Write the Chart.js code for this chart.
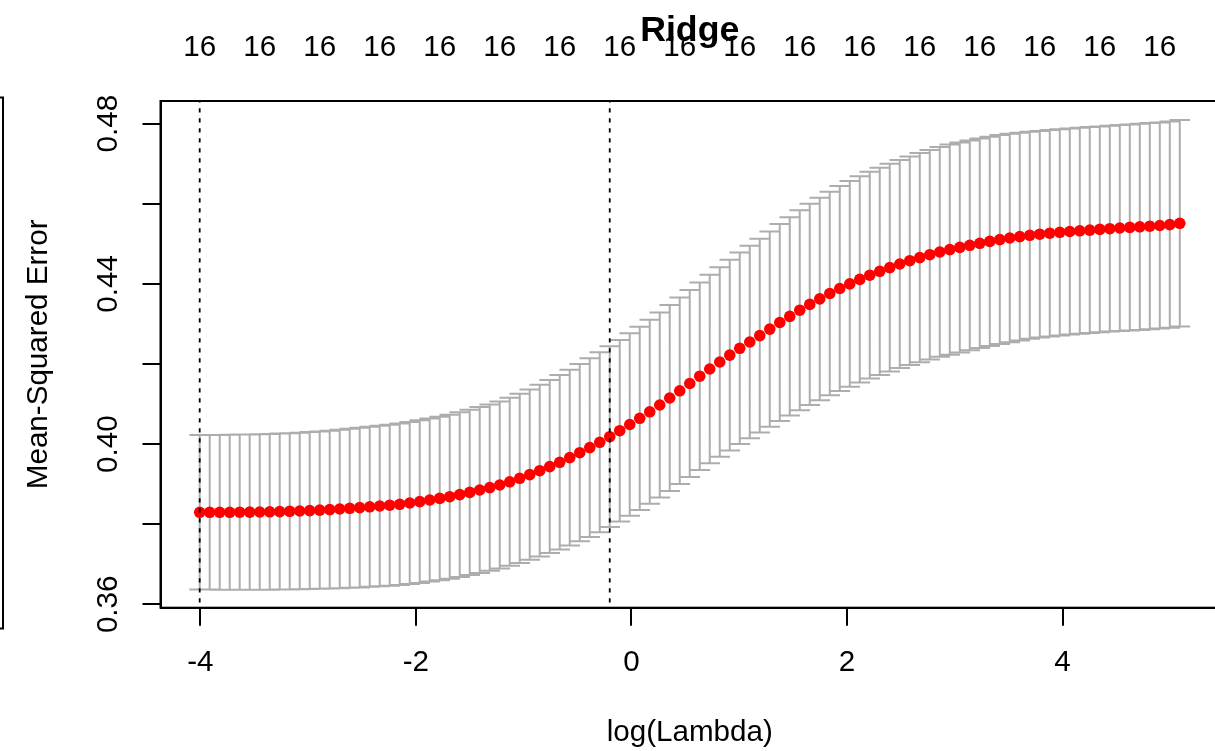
<!DOCTYPE html>
<html>
<head>
<meta charset="utf-8">
<title>Ridge</title>
<script src="https://cdn.jsdelivr.net/npm/chart.js@4.4.1/dist/chart.umd.min.js"></script>
<style>
  html, body { margin: 0; padding: 0; background: #ffffff; overflow: hidden; }
  canvas { display: block; }
</style>
</head>
<body>
<canvas id="cv" width="1240" height="751"></canvas>
<script>
// log(lambda) path of the cross-validated ridge fit
const logLambda = [
  -4.0056,-3.9128,-3.8200,-3.7272,-3.6345,-3.5417,-3.4489,-3.3561,-3.2633,-3.1705,
  -3.0777,-2.9849,-2.8922,-2.7994,-2.7066,-2.6138,-2.5210,-2.4282,-2.3354,-2.2427,
  -2.1499,-2.0571,-1.9643,-1.8715,-1.7787,-1.6859,-1.5932,-1.5004,-1.4076,-1.3148,
  -1.2220,-1.1292,-1.0364,-0.9437,-0.8509,-0.7581,-0.6653,-0.5725,-0.4797,-0.3869,
  -0.2942,-0.2014,-0.1086,-0.0158,0.0770,0.1698,0.2626,0.3553,0.4481,0.5409,
  0.6337,0.7265,0.8193,0.9121,1.0048,1.0976,1.1904,1.2832,1.3760,1.4688,
  1.5616,1.6543,1.7471,1.8399,1.9327,2.0255,2.1183,2.2111,2.3038,2.3966,
  2.4894,2.5822,2.6750,2.7678,2.8606,2.9533,3.0461,3.1389,3.2317,3.3245,
  3.4173,3.5101,3.6028,3.6956,3.7884,3.8812,3.9740,4.0668,4.1596,4.2523,
  4.3451,4.4379,4.5307,4.6235,4.7163,4.8091,4.9018,4.9946,5.0874
];

// mean cross-validated error at each lambda
const cvm = [
  0.38297,0.38297,0.38297,0.38297,0.38300,0.38302,0.38305,0.38310,0.38315,0.38322,
  0.38330,0.38340,0.38352,0.38365,0.38380,0.38397,0.38414,0.38434,0.38454,0.38474,
  0.38497,0.38529,0.38564,0.38604,0.38644,0.38687,0.38739,0.38794,0.38854,0.38914,
  0.38979,0.39059,0.39146,0.39238,0.39336,0.39438,0.39546,0.39663,0.39785,0.39913,
  0.40045,0.40185,0.40335,0.40489,0.40644,0.40806,0.40976,0.41151,0.41331,0.41513,
  0.41695,0.41875,0.42050,0.42222,0.42392,0.42549,0.42709,0.42871,0.43036,0.43188,
  0.43343,0.43488,0.43625,0.43760,0.43885,0.44000,0.44112,0.44217,0.44315,0.44407,
  0.44497,0.44579,0.44657,0.44729,0.44797,0.44856,0.44911,0.44964,0.45014,0.45061,
  0.45106,0.45146,0.45181,0.45213,0.45241,0.45266,0.45288,0.45308,0.45326,0.45343,
  0.45361,0.45378,0.45396,0.45411,0.45426,0.45441,0.45458,0.45481,0.45513
];

// standard error of the cross-validated error
const cvsd = [
  0.01928,0.01930,0.01933,0.01935,0.01938,0.01940,0.01943,0.01945,0.01948,0.01951,
  0.01955,0.01960,0.01965,0.01970,0.01978,0.01985,0.01993,0.01998,0.02005,0.02010,
  0.02017,0.02022,0.02030,0.02035,0.02042,0.02047,0.02055,0.02062,0.02070,0.02077,
  0.02085,0.02097,0.02112,0.02127,0.02145,0.02160,0.02177,0.02195,0.02212,0.02230,
  0.02247,0.02257,0.02267,0.02277,0.02287,0.02297,0.02310,0.02322,0.02330,0.02337,
  0.02342,0.02355,0.02367,0.02380,0.02392,0.02404,0.02417,0.02437,0.02457,0.02477,
  0.02497,0.02512,0.02527,0.02542,0.02557,0.02567,0.02574,0.02582,0.02587,0.02592,
  0.02597,0.02604,0.02612,0.02617,0.02619,0.02622,0.02622,0.02619,0.02617,0.02614,
  0.02609,0.02602,0.02592,0.02584,0.02579,0.02577,0.02574,0.02574,0.02572,0.02572,
  0.02569,0.02569,0.02569,0.02572,0.02574,0.02574,0.02574,0.02577,0.02579
];

// number of non-zero coefficients at each lambda
const nzero = [
  16,16,16,16,16,16,16,16,16,16, 16,16,16,16,16,16,16,16,16,16,
  16,16,16,16,16,16,16,16,16,16, 16,16,16,16,16,16,16,16,16,16,
  16,16,16,16,16,16,16,16,16,16, 16,16,16,16,16,16,16,16,16,16,
  16,16,16,16,16,16,16,16,16,16, 16,16,16,16,16,16,16,16,16,16,
  16,16,16,16,16,16,16,16,16,16, 16,16,16,16,16,16,16,16,16
];

// lambda.min and lambda.1se positions in the path
const minIndex = 0;
const oneSeIndex = 41;

// axis ticks
const xTicks = [-4, -2, 0, 2, 4];
const yTicks = [0.36, 0.38, 0.40, 0.42, 0.44, 0.46, 0.48];
const yTickLabels = [0.36, 0.40, 0.44, 0.48];
const topLabelStep = 6;

// axis ranges (data range widened by 4%, as base graphics does)
const X_MIN = -4.3693, X_MAX = 5.4512;
const Y_MIN = 0.35915, Y_MAX = 0.48567;

const FONT = 29.6;
Chart.defaults.font.family = '"Liberation Sans", Arial, Helvetica, sans-serif';
Chart.defaults.color = '#000000';

const topIdx = [];
for (let i = 0; i < logLambda.length; i += topLabelStep) topIdx.push(i);

const baseGraphics = {
  id: 'baseGraphics',
  beforeDatasetsDraw(chart) {
    // error bars: mean +/- one standard error
    const { ctx, scales: { x, y } } = chart;
    const capHalf = 10.3;
    ctx.save();
    ctx.strokeStyle = '#ADADAD';
    ctx.lineWidth = 2;
    ctx.beginPath();
    logLambda.forEach((v, i) => {
      const px = x.getPixelForValue(v);
      const pu = y.getPixelForValue(cvm[i] + cvsd[i]);
      const pl = y.getPixelForValue(cvm[i] - cvsd[i]);
      ctx.moveTo(px, pu); ctx.lineTo(px, pl);
      ctx.moveTo(px - capHalf, pu); ctx.lineTo(px + capHalf, pu);
      ctx.moveTo(px - capHalf, pl); ctx.lineTo(px + capHalf, pl);
    });
    ctx.stroke();
    ctx.restore();
  },
  afterDatasetsDraw(chart) {
    // dotted verticals at lambda.min and lambda.1se
    const { ctx, chartArea: a, scales: { x } } = chart;
    ctx.save();
    ctx.strokeStyle = '#000000';
    ctx.lineWidth = 1.8;
    ctx.setLineDash([4.3, 5.7]);
    ctx.lineDashOffset = 2.7;
    [minIndex, oneSeIndex].forEach(i => {
      const px = x.getPixelForValue(logLambda[i]);
      ctx.beginPath();
      ctx.moveTo(px, a.top);
      ctx.lineTo(px, a.bottom);
      ctx.stroke();
    });
    ctx.restore();
  },
  afterDraw(chart) {
    const { ctx, chartArea: a } = chart;
    ctx.save();
    ctx.strokeStyle = '#000000';
    ctx.lineWidth = 2;
    // plot box
    ctx.strokeRect(a.left, a.top, a.right - a.left, a.bottom - a.top);
    // edge of the neighbouring frame
    ctx.beginPath();
    ctx.moveTo(0, 97.5);
    ctx.lineTo(3, 97.5);
    ctx.lineTo(3, 628.5);
    ctx.lineTo(0, 628.5);
    ctx.stroke();
    ctx.restore();
  }
};

new Chart(document.getElementById('cv'), {
  type: 'scatter',
  data: {
    datasets: [{
      data: logLambda.map((v, i) => ({ x: v, y: cvm[i] })),
      pointRadius: 5.8,
      pointHoverRadius: 5.8,
      pointBackgroundColor: '#FF0000',
      pointBorderWidth: 0,
      showLine: false
    }]
  },
  options: {
    responsive: false,
    animation: false,
    devicePixelRatio: 1,
    events: [],
    layout: { padding: { left: 0, right: 21, top: 0, bottom: 0 } },
    plugins: {
      legend: { display: false },
      tooltip: { enabled: false },
      title: {
        display: true,
        text: 'Ridge',
        fullSize: false,
        color: '#000000',
        font: { size: 35.7, weight: 'bold', lineHeight: '10px' },
        padding: { top: 26, bottom: 0 }
      }
    },
    scales: {
      x: {
        type: 'linear',
        position: 'bottom',
        min: X_MIN,
        max: X_MAX,
        afterBuildTicks: s => { s.ticks = xTicks.map(v => ({ value: v })); },
        afterFit: s => { s.height = 143.3; },
        ticks: {
          font: { size: FONT },
          padding: 19.5,
          autoSkip: false,
          maxRotation: 0,
          callback: v => String(v)
        },
        grid: { display: true, drawOnChartArea: false, drawTicks: true, tickLength: 18, color: '#000000', lineWidth: 2 },
        border: { display: true, color: '#000000', width: 2 },
        title: { display: true, text: 'log(Lambda)', font: { size: FONT }, padding: { top: 0, bottom: 0 } }
      },
      xTop: {
        type: 'linear',
        axis: 'x',
        position: 'top',
        min: X_MIN,
        max: X_MAX,
        afterBuildTicks: s => { s.ticks = topIdx.map(i => ({ value: logLambda[i] })); },
        afterFit: s => { s.height = 65; },
        ticks: {
          font: { size: FONT },
          padding: 35.7,
          autoSkip: false,
          maxRotation: 0,
          callback: (v, k) => String(nzero[topIdx[k]])
        },
        grid: { display: false, drawTicks: false },
        border: { display: false }
      },
      y: {
        type: 'linear',
        position: 'left',
        min: Y_MIN,
        max: Y_MAX,
        afterBuildTicks: s => { s.ticks = yTicks.map(v => ({ value: v })); },
        afterFit: s => { s.width = 160.5; },
        ticks: {
          font: { size: FONT },
          padding: 4.4,
          minRotation: 90,
          maxRotation: 90,
          crossAlign: 'center',
          autoSkip: false,
          callback: v => (yTickLabels.includes(v) ? v.toFixed(2) : '')
        },
        grid: { display: true, drawOnChartArea: false, drawTicks: true, tickLength: 18, color: '#000000', lineWidth: 2 },
        border: { display: true, color: '#000000', width: 2 },
        title: { display: true, text: 'Mean-Squared Error', font: { size: FONT }, padding: { top: 20.7, bottom: 0 } }
      }
    }
  },
  plugins: [baseGraphics]
});
</script>
</body>
</html>
